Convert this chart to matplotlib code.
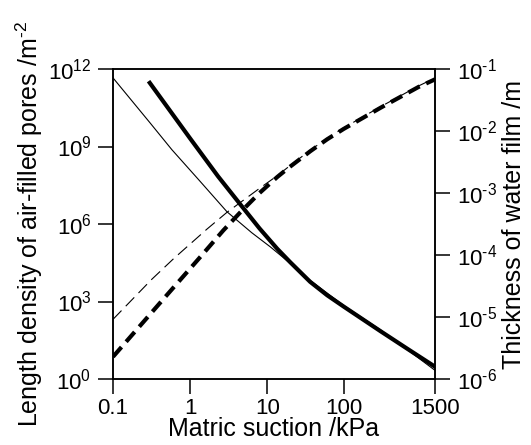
import matplotlib
matplotlib.use('Agg')
import matplotlib.pyplot as plt

plt.rcParams['font.family'] = ['Liberation Sans', 'DejaVu Sans']
plt.rcParams['mathtext.fontset'] = 'custom'
plt.rcParams['mathtext.rm'] = 'Liberation Sans'
plt.rcParams['axes.unicode_minus'] = False

# --- thickness of water film (right axis), solid lines ---
thin_solid_x = [0.1, 0.3, 0.58, 1.35, 3.0, 6.3, 11, 15.8, 36, 100, 295, 650, 1500]
thin_solid_t = [7.2e-2, 1.37e-2, 5.0e-3, 1.54e-3, 5.0e-4, 2.29e-4, 1.35e-4,
                9.3e-5, 3.9e-5, 1.51e-5, 6.2e-6, 3.0e-6, 1.38e-6]

thick_solid_x = [0.3, 1.0, 2.31, 4.46, 7.94, 13.5, 20, 36, 60, 100, 295, 650, 1500]
thick_solid_t = [5.98e-2, 7.6e-3, 1.85e-3, 6.6e-4, 2.69e-4, 1.26e-4, 7.6e-5,
                 3.7e-5, 2.24e-5, 1.45e-5, 5.9e-6, 3.1e-6, 1.58e-6]

# --- length density of air-filled pores (left axis), dashed lines ---
thick_dash_x = [0.1, 0.5, 1.29, 2.69, 4.47, 7.94, 13.5, 19, 36.3, 60, 98, 295, 912, 1500]
thick_dash_l = [7.24, 1780, 4.47e4, 5.62e5, 2.82e6, 1.58e7, 6.61e7, 1.51e8,
                6.61e8, 1.91e9, 4.79e9, 3.16e10, 2.0e11, 3.98e11]

thin_dash_x = [0.1, 0.316, 0.607, 1.65, 3.0, 8.11, 13.5, 19, 36.3, 60, 98, 295, 912, 1500]
thin_dash_l = [204, 7080, 4.47e4, 6.31e5, 2.82e6, 2.51e7, 7.41e7, 1.66e8,
               7.24e8, 2.09e9, 5.25e9, 3.47e10, 2.19e11, 4.47e11]

x_ticks = [0.1, 1, 10, 100, 1500]
x_labels = ['0.1', '1', '10', '100', '1500']
left_ticks = [1, 1e3, 1e6, 1e9, 1e12]
left_labels = [r'$\mathdefault{10^{%s}}$' % e for e in ['0', '3', '6', '9', '12']]
right_ticks = [1e-6, 1e-5, 1e-4, 1e-3, 1e-2, 1e-1]
right_labels = [r'$\mathdefault{10^{\text{-}%s}}$' % e for e in ['6', '5', '4', '3', '2', '1']]

fig = plt.figure(figsize=(5.31, 4.45), dpi=100)
ax = fig.add_axes([0.2128, 0.1483, 0.6064, 0.6966])
ax2 = ax.twinx()

ax.plot(thin_dash_x, thin_dash_l, color='black', lw=0.8, linestyle=(0, (11, 5.5)))
ax.plot(thick_dash_x, thick_dash_l, color='black', lw=3.0, linestyle=(0, (3.1, 1.7)))
ax2.plot(thin_solid_x, thin_solid_t, color='black', lw=0.8)
ax2.plot(thick_solid_x, thick_solid_t, color='black', lw=3.0)

ax.set_xscale('log')
ax.set_yscale('log')
ax2.set_yscale('log')
ax.set_xlim(0.1, 1500)
ax.set_ylim(1, 1e12)
ax2.set_ylim(1e-6, 1e-1)

ax.set_xticks(x_ticks)
ax.set_xticklabels(x_labels)
ax.xaxis.set_minor_locator(plt.NullLocator())
ax.set_yticks(left_ticks)
ax.set_yticklabels(left_labels)
ax.yaxis.set_minor_locator(plt.NullLocator())
ax2.set_yticks(right_ticks)
ax2.set_yticklabels(right_labels)
ax2.yaxis.set_minor_locator(plt.NullLocator())

for a in (ax, ax2):
    a.tick_params(direction='out', length=10.5, width=1.1, labelsize=16, pad=5)
    for s in a.spines.values():
        s.set_linewidth(1.1)
ax.tick_params(axis='x', pad=3)

ax.set_xlabel('Matric suction /kPa', fontsize=18, labelpad=-1)
ax.set_ylabel(r'Length density of air-filled pores /m$^{\text{-}2}$', fontsize=18, labelpad=2)
ax2.set_ylabel('Thickness of water film /m', fontsize=18, labelpad=4)

fig.savefig('out.png', dpi=100)
